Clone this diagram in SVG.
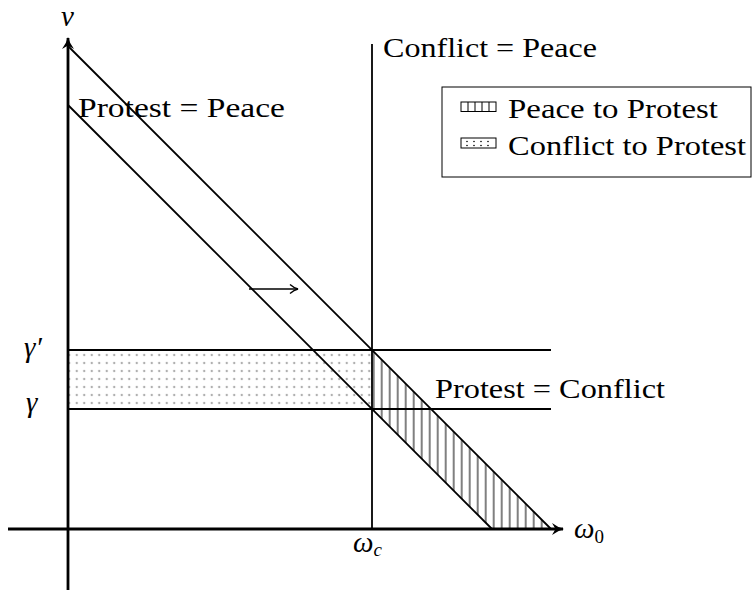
<svg xmlns="http://www.w3.org/2000/svg" width="752" height="591" viewBox="0 0 752 591">
<style>
.t{font-family:"Liberation Serif","DejaVu Serif",serif;font-size:28px;fill:#000}
.m{font-family:"Liberation Serif","DejaVu Serif",serif;font-style:italic;font-size:29px;fill:#000}
.ln{stroke:#000;stroke-width:1.8;fill:none}
.ax{stroke:#000;stroke-width:2.8;fill:none}
</style>
<defs>
<pattern id="hatch" patternUnits="userSpaceOnUse" x="1.7" y="0" width="8" height="10">
<line x1="4" y1="-1" x2="4" y2="11" stroke="#000" stroke-width="1"/>
</pattern>
<pattern id="dots" patternUnits="userSpaceOnUse" x="73" y="351" width="7.5" height="8">
<circle cx="3.75" cy="4" r="1.2" fill="#b0b0b0"/>
</pattern>
<marker id="ah" viewBox="0 0 12 12" refX="9" refY="6" markerWidth="12" markerHeight="12" markerUnits="userSpaceOnUse" orient="auto">
<path d="M1,1.5 Q5,5 9,6 Q5,7 1,10.5" fill="none" stroke="#000" stroke-width="1.4"/>
</marker>
<marker id="big" viewBox="0 0 14 14" refX="11" refY="7" markerWidth="14" markerHeight="14" markerUnits="userSpaceOnUse" orient="auto">
<path d="M0,1 Q6,5.5 12,7 Q6,8.5 0,13 L3.5,7 Z" fill="#000"/>
</marker>
</defs>
<g id="regions">
<rect x="68" y="350" width="304" height="59" fill="url(#dots)"/>
<polygon points="372,350 372,409 492,529 551,529" fill="url(#hatch)"/>
</g>
<g id="connectors">
<line class="ax" x1="8" y1="529" x2="563" y2="529" marker-end="url(#big)"/>
<line class="ax" x1="68" y1="590" x2="68" y2="38" marker-end="url(#big)"/>
<line class="ln" x1="372" y1="44" x2="372" y2="529"/>
<line class="ln" x1="68" y1="350" x2="551" y2="350"/>
<line class="ln" x1="68" y1="409" x2="551" y2="409"/>
<line class="ln" x1="68" y1="46" x2="551" y2="529"/>
<line class="ln" x1="68" y1="105" x2="492" y2="529"/>
<line x1="249" y1="289" x2="298" y2="289" stroke="#000" stroke-width="1.3" marker-end="url(#ah)"/>
</g>
<g id="labels">
<text class="m" x="61" y="26" font-size="24">ν</text>
<text class="t" x="78" y="117" textLength="207" lengthAdjust="spacingAndGlyphs">Protest = Peace</text>
<text class="t" x="383" y="57" textLength="214" lengthAdjust="spacingAndGlyphs">Conflict = Peace</text>
<text class="t" x="435" y="398" textLength="230" lengthAdjust="spacingAndGlyphs">Protest = Conflict</text>
<text class="m" x="24" y="357">γ′</text>
<text class="m" x="26" y="412">γ</text>
<text class="m" x="353" y="552">ω<tspan font-size="19" dy="4">c</tspan></text>
<text class="m" x="574" y="538">ω<tspan font-style="normal" font-size="19" dy="5">0</tspan></text>
</g>
<g id="legend">
<rect x="442" y="87" width="309" height="90" fill="#fff" stroke="#000" stroke-width="1"/>
<g id="legend-hatch">
<rect x="461" y="102" width="35" height="9.5" fill="none" stroke="#000" stroke-width="1"/>
<path d="M468,102V111.5M475,102V111.5M482,102V111.5M489,102V111.5" stroke="#000" stroke-width="1"/>
<text class="t" x="508" y="118" textLength="210" lengthAdjust="spacingAndGlyphs">Peace to Protest</text>
</g>
<g id="legend-dots">
<rect x="461" y="138" width="35" height="10" fill="none" stroke="#000" stroke-width="1"/>
<g fill="#000">
<circle cx="467" cy="141.5" r="0.8"/><circle cx="474" cy="141.5" r="0.8"/><circle cx="481" cy="141.5" r="0.8"/><circle cx="488" cy="141.5" r="0.8"/>
<circle cx="467" cy="145.5" r="0.8"/><circle cx="474" cy="145.5" r="0.8"/><circle cx="481" cy="145.5" r="0.8"/><circle cx="488" cy="145.5" r="0.8"/>
</g>
<text class="t" x="508" y="155" textLength="238" lengthAdjust="spacingAndGlyphs">Conflict to Protest</text>
</g>
</g>
</svg>
